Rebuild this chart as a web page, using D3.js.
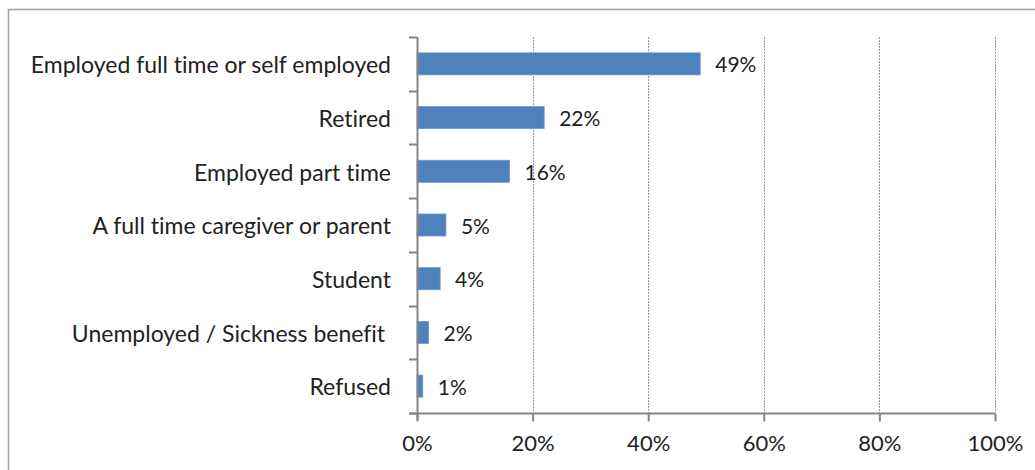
<!DOCTYPE html>
<html>
<head>
<meta charset="utf-8">
<script src="https://cdn.jsdelivr.net/npm/d3@7"></script>
<style>
  html, body { margin: 0; padding: 0; background: #fff; }
  svg { display: block; }
  text { font-family: Lato, "Open Sans", sans-serif; fill: #222; white-space: pre; font-variant-ligatures: none; }
</style>
</head>
<body>
<svg id="chart" width="1035" height="470"></svg>
<script>
// Employment status of respondents (share of total)
const categories = [
  "Employed full time or self employed",
  "Retired",
  "Employed part time",
  "A full time caregiver or parent",
  "Student",
  "Unemployed / Sickness benefit ",
  "Refused"
];
const shares = [49, 22, 16, 5, 4, 2, 1];
const tickValues = [0, 20, 40, 60, 80, 100];

const svg = d3.select("#chart");
const axisColor = "#868686";

// outer chart frame
svg.append("rect")
  .attr("x", 8.5).attr("y", 9.5)
  .attr("width", 1040).attr("height", 480)
  .attr("fill", "none")
  .attr("stroke", "#a0a0a0")
  .attr("stroke-width", 1.5);

const plot = { left: 417, right: 995, top: 37, bottom: 413 };

const x = d3.scaleLinear().domain([0, 100]).range([plot.left, plot.right]);
const y = d3.scaleBand().domain(categories).range([plot.top, plot.bottom]).paddingInner(0.59).paddingOuter(0.295);

// vertical gridlines
svg.append("g")
  .selectAll("line")
  .data(tickValues.filter(d => d > 0))
  .join("line")
  .attr("x1", d => Math.round(x(d)) + 0.5)
  .attr("x2", d => Math.round(x(d)) + 0.5)
  .attr("y1", plot.top)
  .attr("y2", plot.bottom)
  .attr("stroke", "#9a9a9a")
  .attr("stroke-width", 1)
  .attr("stroke-dasharray", "2,1");

// bars
svg.append("g")
  .selectAll("rect")
  .data(categories)
  .join("rect")
  .attr("x", x(0))
  .attr("y", d => y(d))
  .attr("width", (d, i) => x(shares[i]) - x(0))
  .attr("height", y.bandwidth())
  .attr("fill", "#4f81bd")
  .attr("stroke", "#6a95cc")
  .attr("stroke-width", 0.8);

// value labels
svg.append("g")
  .selectAll("text")
  .data(categories)
  .join("text")
  .attr("x", (d, i) => x(shares[i]) + 15)
  .attr("y", d => y(d) + y.bandwidth() / 2 + 1)
  .attr("dy", "0.36em")
  .attr("font-size", 21)
  .text((d, i) => shares[i] + "%");

// category axis: band-boundary ticks
const step = (plot.bottom - plot.top) / categories.length;
const boundaries = d3.range(categories.length + 1).map(i => plot.top + i * step);
const yAxis = svg.append("g");
yAxis.append("line")
  .attr("x1", plot.left + 0.5).attr("x2", plot.left + 0.5)
  .attr("y1", plot.top).attr("y2", plot.bottom + 7)
  .attr("stroke", axisColor).attr("stroke-width", 2);
yAxis.selectAll("line.tick")
  .data(boundaries)
  .join("line")
  .attr("class", "tick")
  .attr("x1", plot.left - 8).attr("x2", plot.left)
  .attr("y1", d => Math.round(d) + 0.5).attr("y2", d => Math.round(d) + 0.5)
  .attr("stroke", axisColor).attr("stroke-width", 2);
yAxis.selectAll("text")
  .data(categories)
  .join("text")
  .attr("x", 391)
  .attr("y", d => y(d) + y.bandwidth() / 2 + 1)
  .attr("dy", "0.36em")
  .attr("text-anchor", "end")
  .attr("font-size", 23)
  .text(d => d);

// value axis
const xAxis = svg.append("g")
  .attr("transform", `translate(0,${plot.bottom + 0.5})`)
  .call(d3.axisBottom(x).tickValues(tickValues).tickFormat(d => d + "%").tickSize(8).tickPadding(14));
xAxis.select(".domain").attr("stroke", axisColor).attr("stroke-width", 2)
  .attr("d", `M${plot.left - 8},0H${plot.right}`);
xAxis.selectAll(".tick line").attr("stroke", axisColor).attr("stroke-width", 2);
xAxis.selectAll(".tick text")
  .attr("font-size", 22)
  .attr("font-family", "Lato, sans-serif")
  .attr("fill", "#222");
</script>
</body>
</html>
